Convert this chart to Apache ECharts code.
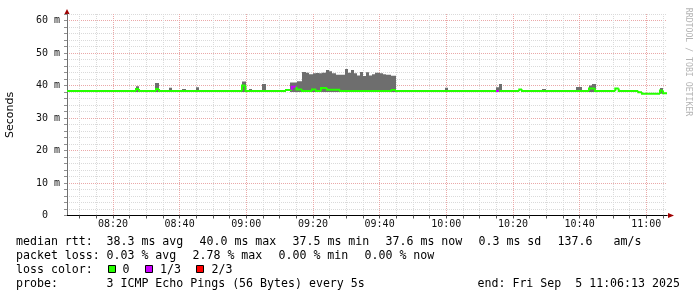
<!DOCTYPE html>
<html><head><meta charset="utf-8">
<script src="https://cdn.jsdelivr.net/npm/echarts@6/dist/echarts.min.js"></script>
<style>html,body{margin:0;padding:0;background:#fff}#c{width:697px;height:297px}</style>
</head><body><div id="c"></div>
<script>
// ---- data ----
const rangeStart = '08:06:13';
const rangeEnd = '11:06:13';
const xTickLabels = ['08:20','08:40','09:00','09:20','09:40','10:00','10:20','10:40','11:00'];
const yMax = 62;
const yLabelValues = [0, 10, 20, 30, 40, 50, 60];
const yLabelTexts = [' 0  ', '10 m', '20 m', '30 m', '40 m', '50 m', '60 m'];

// median rtt (ms) change points, loss index per segment
const medTime = ['08:06:13','08:26:55','08:27:49','08:32:55','08:33:49','08:58:43','08:59:46','09:11:55','09:13:38','09:15:04',
                 '09:16:43','09:19:43','09:20:55','09:22:25','09:24:13','09:28:07','09:43:38','09:44:55','10:14:55','10:15:54',
                 '10:21:54','10:22:43','10:42:49','10:44:37','10:50:42','10:51:44','10:57:36','10:58:43','11:04:07','11:05:01'];
const medValue = [38.3,38.9,38.3,38.9,38.3,40.0,38.3,38.6,39.6,38.8,
                  38.3,38.8,38.3,39.2,38.7,38.3,38.6,38.3,38.3,38.3,
                  38.8,38.3,39.1,38.3,39.1,38.3,37.9,37.5,38.5,37.6];
const medLoss  = [0,0,0,0,0,0,0,0,1,0,
                  0,0,0,0,0,0,0,0,1,0,
                  0,0,0,0,0,0,0,0,0,0];

// smoke (spread of pings, ms)
const smokeStart = ['08:26:55','08:32:42','08:36:44','08:40:38','08:44:50','08:58:34','09:00:44','09:04:38','09:13:07','09:15:04',
  '09:16:43','09:17:55','09:18:49','09:20:01','09:20:55','09:21:49','09:22:43','09:23:55','09:24:49','09:25:43',
  '09:26:55','09:29:37','09:30:31','09:31:25','09:32:19','09:33:13','09:34:07','09:35:01','09:35:55','09:36:49',
  '09:37:43','09:38:37','09:40:07','09:41:01','09:41:55','09:43:25',
  '09:59:37','10:14:55','10:15:54','10:28:48','10:38:55','10:42:49','10:43:48','11:04:07'];
const smokeEnd = ['08:27:49','08:33:54','08:37:43','08:41:55','08:45:49','08:59:55','09:01:43','09:05:55','09:15:04','09:16:43',
  '09:17:55','09:18:49','09:20:01','09:20:55','09:21:49','09:22:43','09:23:55','09:24:49','09:25:43','09:26:55',
  '09:29:37','09:30:31','09:31:25','09:32:19','09:33:13','09:34:07','09:35:01','09:35:55','09:36:49','09:37:43',
  '09:38:37','09:40:07','09:41:01','09:41:55','09:43:25','09:44:55',
  '10:00:36','10:15:54','10:16:43','10:29:55','10:40:43','10:43:48','10:44:55','11:05:01'];
const smokeHigh = [39.8,40.8,39.3,38.9,39.5,41.2,38.9,40.5,40.9,41.3,
  44.15,43.9,43.5,43.75,43.85,43.75,43.9,44.8,44.4,43.75,
  43.3,45.1,43.9,44.8,43.75,43.1,44.15,42.9,44.05,43.1,
  43.5,43.9,43.75,43.5,43.3,43.0,
  39.3,39.5,40.5,38.9,39.55,40.0,40.5,39.2];
const smokeLow = [38.0,38.0,38.0,38.0,38.0,38.0,38.0,38.0,38.0,38.0,
  38.0,38.0,38.0,38.0,38.0,38.0,38.0,38.0,38.0,38.0,
  38.0,38.0,38.0,38.0,38.0,38.0,38.0,38.0,38.0,38.0,
  38.0,38.0,38.0,38.0,38.0,38.0,
  38.0,38.0,38.0,38.0,38.0,38.0,38.0,37.5];

const lossColors = ['#26ff00', '#cc00ff', '#ff0000'];
const lossLabels = ['0', '1/3', '2/3'];

// ---- helpers ----
function toMin(s){ const p = s.split(':').map(Number); return p[0]*60 + p[1] + (p[2]||0)/60; }
const T0 = toMin(rangeStart), T1 = toMin(rangeEnd);
const majorTicks = xTickLabels.map(toMin);
const minorTicks = [];
for (let m = Math.ceil(T0/5)*5; m <= T1; m += 5) minorTicks.push(m);
const MIN_C = '#dadada', MAJ_C = '#eaa8a8';
const xGridColors = minorTicks.map(m => majorTicks.indexOf(m) >= 0 ? MAJ_C : MIN_C);
const yGridColors = [];
for (let v = 0; v <= yMax; v += 2) yGridColors.push(v % 10 === 0 ? MAJ_C : MIN_C);

const MONO = '"DejaVu Sans Mono", monospace';

const smokeData = smokeStart.map((s, i) => [toMin(s), toMin(smokeEnd[i]), smokeLow[i], smokeHigh[i]]);
const medData = medTime.map((s, i) => [toMin(s), i + 1 < medTime.length ? toMin(medTime[i+1]) : T1,
  medValue[i], i > 0 ? medValue[i-1] : medValue[i], medLoss[i]]);

// ---- legend / text ----
const graphics = [];
function txt(x, y, s, extra){
  graphics.push(Object.assign({type:'text', x:x, y:y, silent:true,
    style:{text:s, font:'11.6px ' + MONO, fill:'#000', textAlign:'left', textVerticalAlign:'middle'}}, extra||{}));
}
const L1 = 241.8, L2 = 255.7, L3 = 269.6, L4 = 283.5;
[[16,'median rtt:'],[106.5,'38.3 ms avg'],[199.5,'40.0 ms max'],[292.5,'37.5 ms min'],[385.5,'37.6 ms now'],
 [478.5,'0.3 ms sd'],[557.5,'137.6'],[613.5,'am/s']].forEach(a => txt(a[0], L1, a[1]));
[[16,'packet loss:'],[106.5,'0.03 % avg'],[192.5,'2.78 % max'],[278.5,'0.00 % min'],[364.5,'0.00 % now']]
  .forEach(a => txt(a[0], L2, a[1]));
txt(16, L3, 'loss color:');
const boxX = [108.5, 145.5, 196.5], labX = [122.5, 160, 211.5];
lossLabels.forEach((l, i) => {
  graphics.push({type:'rect', silent:true, shape:{x:boxX[i], y:265.5, width:7, height:7},
    style:{fill:lossColors[i], stroke:'#000', lineWidth:1}});
  txt(labX[i], L3, l);
});
txt(16, L4, 'probe:');
txt(106.5, L4, '3 ICMP Echo Pings (56 Bytes) every 5s');
txt(477.5, L4, 'end: Fri Sep  5 11:06:13 2025');
graphics.push({type:'text', x:10.5, y:115, rotation:Math.PI/2, silent:true,
  style:{text:'Seconds', font:'11px "DejaVu Sans", sans-serif', fill:'#000', textAlign:'center', textVerticalAlign:'middle'}});
graphics.push({type:'text', x:688.5, y:62, rotation:-Math.PI/2, silent:true,
  style:{text:'RRDTOOL / TOBI OETIKER', font:'8.2px ' + MONO, fill:'#b4b4b4', textAlign:'center', textVerticalAlign:'middle'}});

// ---- chart ----
const chart = echarts.init(document.getElementById('c'), null, {renderer:'canvas'});
chart.setOption({
  animation: false,
  backgroundColor: '#ffffff',
  grid: {left: 67, top: 14, width: 600, height: 201.5},
  xAxis: [{
    type: 'value', min: T0, max: T1, position: 'bottom', z: 1,
    axisLine: {show: true, onZero: false, lineStyle: {color: '#000', width: 1}},
    axisTick: {show: true, customValues: minorTicks, length: 3, lineStyle: {color: '#555'}},
    axisLabel: {show: true, customValues: majorTicks, margin: 4, fontFamily: MONO, fontSize: 10, color: '#111',
      formatter: v => { const i = majorTicks.findIndex(m => Math.abs(m - v) < 1e-6); return i >= 0 ? xTickLabels[i] : ''; }},
    splitLine: {show: true, lineStyle: {color: xGridColors, type: [1, 1], width: 1}}
  }, {
    type: 'value', min: T0, max: T1, position: 'bottom', z: 0,
    axisLine: {show: true, onZero: false, symbol: ['none', 'triangle'], symbolSize: [5, 6], symbolOffset: [0, 4],
      lineStyle: {color: '#a00000', width: 1}},
    axisTick: {show: false}, axisLabel: {show: false}, splitLine: {show: false}
  }],
  yAxis: [{
    type: 'value', min: 0, max: yMax, interval: 2, position: 'left', z: 1,
    axisLine: {show: true, lineStyle: {color: '#707070', width: 1}},
    axisTick: {show: true, length: 3, lineStyle: {color: '#909090'}},
    axisLabel: {margin: 7, fontFamily: MONO, fontSize: 10, color: '#111',
      formatter: v => { const i = yLabelValues.indexOf(v); return i >= 0 ? yLabelTexts[i] : ''; }},
    splitLine: {show: true, lineStyle: {color: yGridColors, type: [1, 1], width: 1}}
  }, {
    type: 'value', min: 0, max: yMax, position: 'left', z: 0,
    axisLine: {show: true, symbol: ['none', 'triangle'], symbolSize: [5, 5], symbolOffset: [0, 2.5],
      lineStyle: {color: '#a00000', width: 1}},
    axisTick: {show: false}, axisLabel: {show: false}, splitLine: {show: false}
  }],
  series: [{
    type: 'custom', name: 'smoke', clip: true, z: 2, silent: true,
    encode: {x: [0, 1], y: [2, 3]},
    data: smokeData,
    renderItem: (params, api) => {
      const p0 = api.coord([api.value(0), api.value(3)]);
      const p1 = api.coord([api.value(1), api.value(2)]);
      const x0 = Math.round(p0[0]), x1 = Math.round(p1[0]);
      return {type: 'rect', shape: {x: x0, y: p0[1], width: Math.max(1, x1 - x0), height: p1[1] - p0[1]},
        style: {fill: '#6e6e6e'}};
    }
  }, {
    type: 'custom', name: 'median', clip: true, z: 3, silent: true,
    encode: {x: [0, 1], y: [2, 3]},
    data: medData,
    renderItem: (params, api) => {
      const s = api.value(0), e = api.value(1), v = api.value(2), pv = api.value(3), loss = api.value(4);
      const a = api.coord([s, pv]), b = api.coord([s, v]), c = api.coord([e, v]);
      return {type: 'polyline', shape: {points: [a, b, c]},
        style: {stroke: lossColors[loss], lineWidth: 2, fill: null}};
    }
  }],
  graphic: graphics
});
</script>
</body></html>
